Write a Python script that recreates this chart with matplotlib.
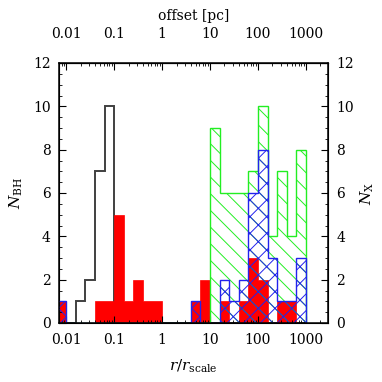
import numpy as np
import matplotlib
matplotlib.use("Agg")
import matplotlib.pyplot as plt
from matplotlib.ticker import MultipleLocator, LogLocator, FixedLocator, FixedFormatter, NullFormatter

plt.rcParams['font.family'] = 'DejaVu Serif'
plt.rcParams['mathtext.fontset'] = 'dejavuserif'
plt.rcParams['hatch.linewidth'] = 0.7

# bins in log10(r/r_scale), 0.2 dex wide, from -2.2 to 3.0
log_edges = np.round(np.arange(-2.2, 3.001, 0.2), 1)

# counts per bin (26 bins)
n_bh_all = [0, 0, 1, 2, 7, 10, 0, 0, 0, 0, 0, 0, 0,
            0, 0, 0, 0, 0, 0, 0, 0, 0, 0, 0, 0, 0]
n_bh_red = [1, 0, 0, 0, 1, 1, 5, 1, 2, 1, 1, 0, 0,
            0, 1, 2, 0, 1, 0, 1, 3, 2, 0, 1, 1, 0]
n_x_green = [0, 0, 0, 0, 0, 0, 0, 0, 0, 0, 0, 0, 0,
             0, 0, 0, 9, 6, 6, 6, 7, 10, 4, 7, 4, 8]
n_x_blue = [1, 0, 0, 0, 0, 0, 0, 0, 0, 0, 0, 0, 0,
            0, 1, 0, 0, 2, 1, 2, 6, 8, 3, 1, 1, 3]

tick_vals = [0.01, 0.1, 1, 10, 100, 1000]
tick_labels = ['0.01', '0.1', '1', '10', '100', '1000']

edges = 10.0 ** log_edges

fig = plt.figure(figsize=(3.82, 3.82), dpi=100)
ax = fig.add_axes([59 / 382, 59 / 382, 269 / 382, 260 / 382])
ax2 = ax.twinx()

ax.stairs(n_bh_all, edges, color='0.25', linewidth=1.4, baseline=0)
ax.stairs(n_bh_red, edges, fill=True, facecolor='red', edgecolor='red', linewidth=0.5)

ax2.stairs(n_x_green, edges, fill=True, facecolor='none', edgecolor='#22ee22',
           hatch='\\\\', linewidth=1.0)
ax2.stairs(n_x_blue, edges, fill=True, facecolor='none', edgecolor='#2222ee',
           hatch='xx', linewidth=1.0)

xlo, xhi = 10 ** -2.15, 10 ** 3.46
for a in (ax, ax2):
    a.set_xscale('log')
    a.set_xlim(xlo, xhi)
    a.set_ylim(0, 12)
for sp in ax2.spines.values():
    sp.set_linewidth(1.1)
    sp.set_zorder(5)

ax.xaxis.set_major_locator(FixedLocator(tick_vals))
ax.xaxis.set_major_formatter(FixedFormatter(tick_labels))
ax.xaxis.set_minor_locator(LogLocator(base=10, subs=np.arange(2, 10), numticks=20))
ax.xaxis.set_minor_formatter(NullFormatter())

for a in (ax, ax2):
    a.yaxis.set_major_locator(MultipleLocator(2))
    a.yaxis.set_minor_locator(MultipleLocator(0.5))

top = ax.secondary_xaxis('top')
top.xaxis.set_major_locator(FixedLocator(tick_vals))
top.xaxis.set_major_formatter(FixedFormatter(tick_labels))
top.xaxis.set_minor_locator(LogLocator(base=10, subs=np.arange(2, 10), numticks=20))
top.xaxis.set_minor_formatter(NullFormatter())

for a in (ax, ax2, top):
    a.tick_params(which='major', direction='in', length=5, width=0.8, labelsize=10, pad=6)
    a.tick_params(which='minor', direction='in', length=2.5, width=0.6)
ax.tick_params(axis='x', which='major', pad=7)
top.tick_params(axis='x', which='major', pad=16)

ax.set_xlabel(r'$r/r_{\rm scale}$', fontsize=11, labelpad=8)
ax.set_ylabel(r'$N_{\rm BH}$', fontsize=11, labelpad=6)
ax2.set_ylabel(r'$N_{\rm X}$', fontsize=11, rotation=90, labelpad=3)
top.set_xlabel('offset [pc]', fontsize=10, labelpad=5)

fig.savefig('out.png', dpi=100)
plt.close(fig)
